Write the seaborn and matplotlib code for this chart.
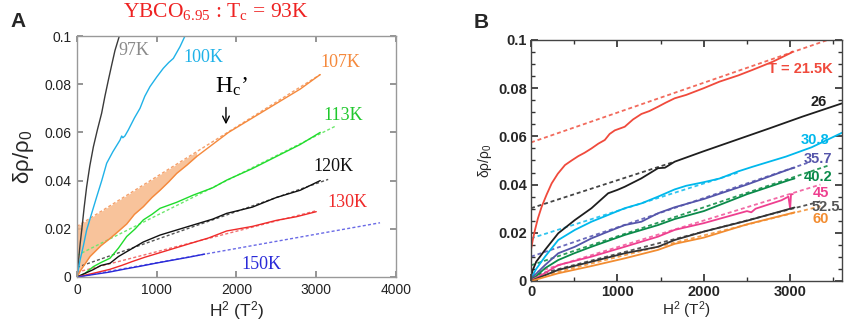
import numpy as np
import pandas as pd
import matplotlib
matplotlib.use("Agg")
import matplotlib.pyplot as plt
from matplotlib.ticker import MultipleLocator, FormatStrFormatter
import seaborn as sns

sns.set_theme(style="ticks")
plt.rcParams['font.family'] = ['Liberation Sans', 'DejaVu Sans']
plt.rcParams['mathtext.fontset'] = 'custom'
plt.rcParams['mathtext.rm'] = 'Liberation Sans'
plt.rcParams['mathtext.it'] = 'Liberation Sans:italic'

# ---------------- panel A : YBCO6.95 (solid = data, dashed = linear fit) ----------------
a_97_x = [0, 16, 40, 59, 90, 121, 160, 205, 255, 309, 350, 393, 435, 476, 531]
a_97_y = [0, 0.006, 0.014, 0.0195, 0.029, 0.0375, 0.046, 0.054, 0.061, 0.068, 0.075, 0.0817, 0.088, 0.094, 0.100]
a_100_x = [0, 38, 80, 121, 180, 247, 310, 372, 450, 539, 560, 575, 600, 643, 720, 790, 850, 915, 1000, 1082, 1150, 1208, 1292, 1354]
a_100_y = [0, 0.007, 0.013, 0.0195, 0.026, 0.0333, 0.040, 0.0472, 0.052, 0.0568, 0.0585, 0.0578, 0.0585, 0.061, 0.066, 0.070, 0.075, 0.079, 0.083, 0.0866, 0.089, 0.0907, 0.0956, 0.100]
a_107_x = [0, 50, 163, 300, 414, 520, 623, 720, 832, 940, 1041, 1150, 1250, 1380, 1500, 1700, 1900, 2200, 2500, 2800, 3050]
a_107_y = [0, 0.003, 0.0085, 0.013, 0.016, 0.019, 0.022, 0.026, 0.0292, 0.033, 0.036, 0.0395, 0.043, 0.0465, 0.050, 0.055, 0.060, 0.066, 0.072, 0.078, 0.084]
a_113_x = [0, 100, 205, 300, 414, 520, 623, 730, 832, 940, 1041, 1250, 1459, 1700, 1877, 2200, 2500, 2800, 3050]
a_113_y = [0, 0.0015, 0.0043, 0.006, 0.0078, 0.012, 0.0168, 0.020, 0.0237, 0.026, 0.0285, 0.031, 0.034, 0.037, 0.0402, 0.045, 0.050, 0.055, 0.060]
a_120_x = [0, 200, 300, 414, 520, 623, 830, 1041, 1250, 1459, 1700, 1877, 2200, 2500, 2800, 3050]
a_120_y = [0, 0.003, 0.0048, 0.0057, 0.0085, 0.0105, 0.0145, 0.0174, 0.0195, 0.0216, 0.024, 0.0264, 0.029, 0.033, 0.036, 0.040]
a_130_x = [0, 200, 414, 560, 700, 850, 1041, 1250, 1459, 1650, 1877, 2200, 2500, 2750, 3000]
a_130_y = [0, 0.0015, 0.0032, 0.0048, 0.0065, 0.0082, 0.0101, 0.0122, 0.0143, 0.0162, 0.0191, 0.021, 0.0235, 0.025, 0.0271]
a_150_x = [0, 200, 400, 600, 800, 1000, 1200, 1400, 1600]
a_150_y = [0, 0.001, 0.002, 0.0033, 0.0045, 0.0058, 0.007, 0.0082, 0.0095]

# dashed fits: (x start, x end), (y start, y end)
a_fit_107 = ([0, 3050], [0.021, 0.084])
a_fit_113 = ([0, 3235], [0.009, 0.0625])
a_fit_120 = ([0, 3150], [0.004, 0.0405])
a_fit_130 = ([0, 3000], [0.002, 0.0275])
a_fit_150 = ([0, 3800], [0.0, 0.0225])

a_labels = ['97K', '100K', '107K', '113K', '120K', '130K', '150K']
a_label_x = [514, 1330, 3047, 3090, 2963, 3135, 2065]
a_label_y = [0.094, 0.091, 0.089, 0.067, 0.046, 0.031, 0.0053]

# ---------------- panel B ----------------
b_215_x = [0, 20, 46, 80, 123, 180, 239, 310, 393, 470, 547, 620, 700, 780, 854, 910, 970, 1085, 1180, 1278, 1370, 1470, 1560, 1663, 1796, 2000, 2181, 2400, 2565, 2800, 3000, 3027]
b_215_y = [0.013, 0.017, 0.0212, 0.026, 0.0308, 0.0358, 0.0405, 0.0445, 0.0481, 0.050, 0.0518, 0.0532, 0.055, 0.057, 0.0585, 0.061, 0.0625, 0.064, 0.067, 0.0693, 0.0705, 0.0723, 0.074, 0.0758, 0.0772, 0.080, 0.0827, 0.0853, 0.0876, 0.091, 0.0945, 0.0952]
b_26_x = [0, 20, 60, 162, 315, 508, 700, 893, 1000, 1085, 1278, 1470, 1550, 1663, 1988, 2373, 2758, 3142, 3600]
b_26_y = [0.002, 0.0045, 0.008, 0.0129, 0.0198, 0.0253, 0.0302, 0.0364, 0.0378, 0.0391, 0.0426, 0.0468, 0.047, 0.0495, 0.0537, 0.0585, 0.0633, 0.0682, 0.0737]
b_308_x = [0, 60, 162, 315, 508, 700, 893, 1085, 1278, 1470, 1663, 1796, 2000, 2181, 2400, 2565, 2950, 3250, 3600]
b_308_y = [0.001, 0.005, 0.0101, 0.017, 0.0212, 0.0246, 0.0274, 0.0302, 0.0322, 0.035, 0.038, 0.0395, 0.041, 0.0425, 0.0455, 0.0474, 0.0516, 0.0555, 0.0615]
b_357_x = [0, 60, 162, 315, 508, 700, 893, 1085, 1278, 1470, 1663, 2000, 2500, 3000, 3050]
b_357_y = [0.001, 0.003, 0.0066, 0.0115, 0.0142, 0.0177, 0.0205, 0.0232, 0.0246, 0.0281, 0.0306, 0.034, 0.040, 0.0465, 0.047]
b_402_x = [0, 60, 162, 315, 500, 700, 1085, 1470, 1663, 2000, 2500, 3000, 3050]
b_402_y = [0.0005, 0.002, 0.0053, 0.0087, 0.0115, 0.0142, 0.0191, 0.0232, 0.0257, 0.029, 0.036, 0.042, 0.0425]
b_45_x = [0, 100, 315, 700, 1085, 1470, 1663, 2000, 2500, 2550, 2600, 2900, 2980, 3000, 3010, 3030]
b_45_y = [0.0003, 0.002, 0.0066, 0.0101, 0.0142, 0.0184, 0.0212, 0.024, 0.029, 0.0285, 0.030, 0.0335, 0.035, 0.030, 0.036, 0.036]
b_525_x = [0, 100, 315, 700, 1085, 1470, 1663, 2000, 2500, 3000, 3050]
b_525_y = [0, 0.0015, 0.0046, 0.008, 0.0115, 0.0142, 0.017, 0.0205, 0.025, 0.030, 0.0305]
b_60_x = [0, 100, 315, 700, 1085, 1470, 1663, 2000, 2500, 3000, 3050]
b_60_y = [0, 0.001, 0.0032, 0.0062, 0.0094, 0.0129, 0.0154, 0.018, 0.0235, 0.028, 0.0285]

b_fit_215 = ([0, 3434], [0.0575, 0.100])
b_fit_26 = ([0, 1663], [0.0302, 0.0495])
b_fit_308 = ([0, 2400], [0.0177, 0.045])
b_fit_357 = ([0, 3200], [0.0101, 0.049])
b_fit_402 = ([0, 3450], [0.0065, 0.048])
b_fit_45 = ([0, 3350], [0.003, 0.040])
b_fit_525 = ([0, 3350], [0.002, 0.033])
b_fit_60 = ([0, 3350], [0.001, 0.031])

b_labels = ['T = 21.5K', '26', '30.8', '35.7', '40.2', '45', '52.5', '60']
b_label_x = [2738, 3238, 3123, 3162, 3162, 3258, 3250, 3258]
b_label_y = [0.088, 0.0744, 0.0585, 0.0505, 0.0433, 0.0367, 0.0308, 0.0256]


def curve(ax, x, y, color, dashed=False, lw=1.0):
    df = pd.DataFrame({'x': x, 'y': y})
    sns.lineplot(data=df, x='x', y='y', ax=ax, color=color, lw=lw, sort=False,
                 estimator=None, linestyle=(0, (2.2, 1.6)) if dashed else '-')


fig = plt.figure(figsize=(8.51, 3.25), dpi=100)
axA = fig.add_axes([0.0905, 0.1477, 0.3748, 0.7415])
axB = fig.add_axes([0.624, 0.1354, 0.3654, 0.7416])

# ---- panel A ----
fx, fy = a_fit_107
sel = [i for i, v in enumerate(a_107_x) if v <= 1600]
xs = np.array(a_107_x)[sel]
axA.fill_between(xs, np.array(a_107_y)[sel], np.interp(xs, fx, fy),
                 color='#f7b98a', alpha=0.85, lw=0)

a_solid = [(a_97_x, a_97_y, '#3a3a3a'), (a_100_x, a_100_y, '#1fb2e8'),
           (a_107_x, a_107_y, '#f5893c'), (a_113_x, a_113_y, '#1fdc2c'),
           (a_120_x, a_120_y, '#111111'), (a_130_x, a_130_y, '#ef2a2a'),
           (a_150_x, a_150_y, '#2a2ad8')]
a_dash = [(a_fit_107, '#f5a06a'), (a_fit_113, '#6ee86e'), (a_fit_120, '#555555'),
          (a_fit_130, '#f07070'), (a_fit_150, '#6a6ae6')]
for (x, y), c in a_dash:
    curve(axA, x, y, c, dashed=True, lw=1.0)
for x, y, c in a_solid:
    curve(axA, x, y, c, lw=1.0)

a_label_colors = ['#8a8a8a', '#1fb2e8', '#f5893c', '#1fc82c', '#111111', '#ef2a2a', '#2a2ad8']
for t, x, y, c in zip(a_labels, a_label_x, a_label_y, a_label_colors):
    axA.text(x, y, t, color=c, fontsize=13, family='Liberation Serif', ha='left', va='center')

axA.text(1730, 0.079, "H$_\\mathregular{c}$\u2019", fontsize=17, family='Liberation Serif',
         ha='left', va='center', color='black')
axA.annotate('', xy=(1868, 0.0622), xytext=(1868, 0.0715),
             arrowprops=dict(arrowstyle='->', color='black', lw=1.0))

axA.set_xlim(0, 4000)
axA.set_ylim(0, 0.1)
axA.xaxis.set_major_locator(MultipleLocator(1000))
axA.yaxis.set_major_locator(MultipleLocator(0.02))
axA.yaxis.set_major_formatter(FormatStrFormatter('%g'))
axA.tick_params(direction='in', top=True, right=True, length=4, labelsize=10,
                color='#888888', labelcolor='#222222', pad=4)
for s in axA.spines.values():
    s.set_color('#999999')
    s.set_linewidth(1.0)
axA.set_xlabel('H$^2$ (T$^2$)', fontsize=12.5, labelpad=2)
axA.set_ylabel('\u03b4\u03c1/\u03c1$_0$', fontsize=16, labelpad=6)

# ---- panel B ----
b_solid = [(b_215_x, b_215_y, '#f04a3c'), (b_26_x, b_26_y, '#1e1e1e'),
           (b_308_x, b_308_y, '#00b8ec'), (b_357_x, b_357_y, '#5555aa'),
           (b_402_x, b_402_y, '#0a8a4a'), (b_45_x, b_45_y, '#ee3f8f'),
           (b_525_x, b_525_y, '#333333'), (b_60_x, b_60_y, '#f28c30')]
b_dash = [(b_fit_215, '#f26a5c'), (b_fit_26, '#444444'), (b_fit_308, '#30c4ef'),
          (b_fit_357, '#6a6abb'), (b_fit_402, '#2a9a5a'), (b_fit_45, '#f26aa6'),
          (b_fit_525, '#555555'), (b_fit_60, '#f4a050')]
for (x, y), c in b_dash:
    curve(axB, x, y, c, dashed=True, lw=1.3)
for x, y, c in b_solid:
    curve(axB, x, y, c, lw=1.3)

b_label_colors = ['#f04a3c', '#1e1e1e', '#00b8ec', '#5555aa', '#0a8a4a', '#ee3f8f', '#555555', '#f28c30']
for t, x, y, c in zip(b_labels, b_label_x, b_label_y, b_label_colors):
    axB.text(x, y, t, color=c, fontsize=10.5, fontweight='bold', ha='left', va='center')

axB.set_xlim(0, 3600)
axB.set_ylim(0, 0.1)
axB.xaxis.set_major_locator(MultipleLocator(1000))
axB.xaxis.set_minor_locator(MultipleLocator(500))
axB.yaxis.set_major_locator(MultipleLocator(0.02))
axB.yaxis.set_minor_locator(MultipleLocator(0.005))
axB.yaxis.set_major_formatter(FormatStrFormatter('%g'))
axB.tick_params(which='both', direction='in', top=True, right=True, color='#333333')
axB.tick_params(which='major', length=5, labelsize=10.5, pad=3)
axB.tick_params(which='minor', length=3)
for lab in axB.get_xticklabels() + axB.get_yticklabels():
    lab.set_fontweight('bold')
for s in axB.spines.values():
    s.set_color('#444444')
    s.set_linewidth(1.0)
axB.set_xlabel('H$^2$ (T$^2$)', fontsize=11, labelpad=0)
axB.set_ylabel('\u03b4\u03c1/\u03c1$_0$', fontsize=10, labelpad=3)

# ---- titles and panel letters ----
fig.text(0.254, 0.962, 'YBCO$_\\mathregular{6.95}$ : T$_\\mathregular{c}$ = 93K', color='#ee2222',
         fontsize=15.5, family='Liberation Serif', ha='center', va='center')
fig.text(0.012, 0.935, 'A', fontsize=15, fontweight='bold', ha='left', va='center')
fig.text(0.556, 0.93, 'B', fontsize=15, fontweight='bold', ha='left', va='center')

fig.savefig('out.png', dpi=100)
